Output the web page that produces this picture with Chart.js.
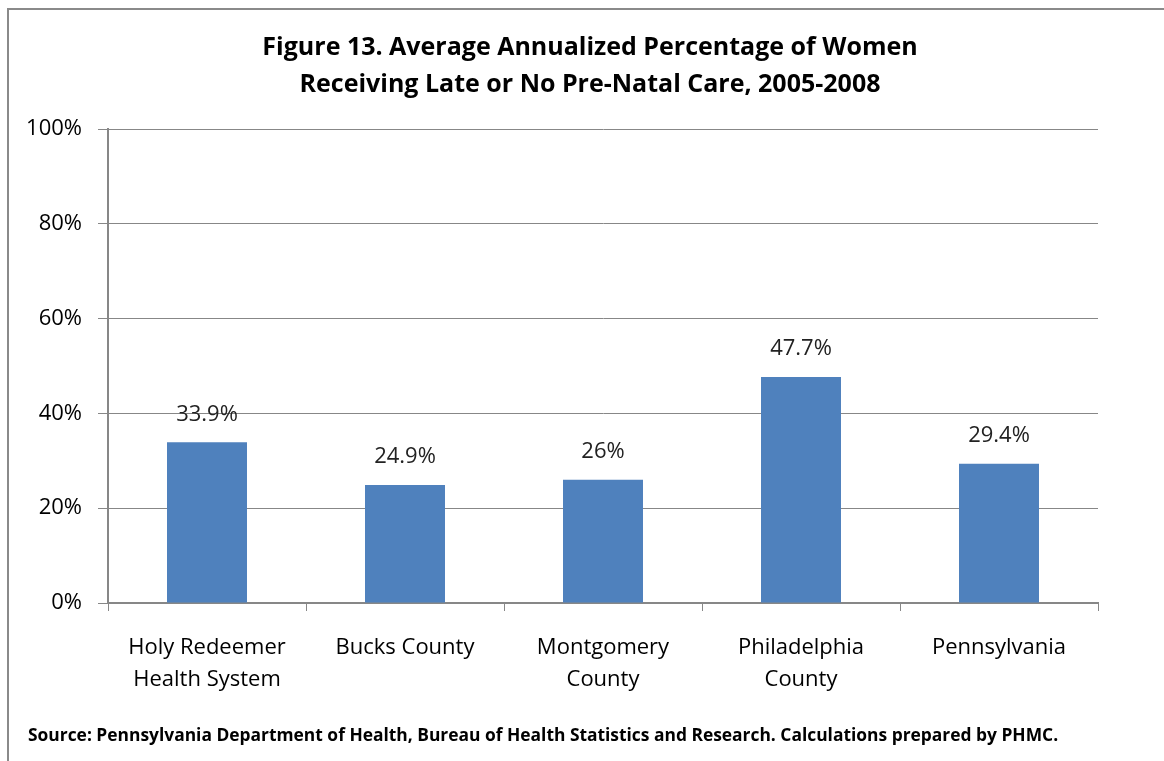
<!DOCTYPE html>
<html>
<head>
<meta charset="utf-8">
<script src="https://cdn.jsdelivr.net/npm/chart.js@4/dist/chart.umd.min.js"></script>
<style>
  html, body { margin: 0; padding: 0; background: #fff; }
  #wrap { position: relative; width: 1164px; height: 761px; overflow: hidden; }
  #frame { position: absolute; left: 7px; top: 8px; width: 1200px; height: 800px;
           border-left: 2px solid #8a8a8a; border-top: 2px solid #8a8a8a; }
  canvas { position: absolute; left: 0; top: 0; }
</style>
</head>
<body>
<div id="wrap">
  <div id="frame"></div>
  <canvas id="chart" width="1164" height="761"></canvas>
</div>
<script>
// Chart data
const categories = [
  ["Holy Redeemer", "Health System"],
  ["Bucks County"],
  ["Montgomery", "County"],
  ["Philadelphia", "County"],
  ["Pennsylvania"],
];
const values = [33.9, 24.9, 26, 47.7, 29.4];
const valueLabels = ["33.9%", "24.9%", "26%", "47.7%", "29.4%"];
const yTicks = [0, 20, 40, 60, 80, 100];

const titleLines = [
  "Figure 13. Average Annualized Percentage of Women",
  "Receiving Late or No Pre-Natal Care, 2005-2008",
];
const sourceText =
  "Source: Pennsylvania Department of Health, Bureau of Health Statistics and Research. Calculations prepared by PHMC.";

const FONT = "'Open Sans', Lato, sans-serif";

// Title, source note and bar value labels
const textPlugin = {
  id: "textPlugin",
  afterDraw(chart) {
    const ctx = chart.ctx;
    ctx.save();
    ctx.fillStyle = "#000";
    ctx.textBaseline = "middle";

    ctx.textAlign = "center";
    ctx.font = "bold 25px " + FONT;
    ctx.fillText(titleLines[0], 590, 48);
    ctx.fillText(titleLines[1], 590, 85);

    ctx.textAlign = "left";
    ctx.font = "bold 17.4px " + FONT;
    ctx.fillText(sourceText, 28, 736);

    ctx.textAlign = "center";
    ctx.font = "22px " + FONT;
    ctx.fillStyle = "#222";
    const meta = chart.getDatasetMeta(0);
    meta.data.forEach((bar, i) => {
      ctx.fillText(valueLabels[i], bar.x, bar.y - 28);
    });
    ctx.restore();
  },
};

new Chart(document.getElementById("chart").getContext("2d"), {
  type: "bar",
  data: {
    labels: categories,
    datasets: [
      {
        data: values,
        backgroundColor: "#4f81bd",
        borderWidth: 0,
        categoryPercentage: 1,
        barPercentage: 0.404,
      },
    ],
  },
  options: {
    responsive: false,
    animation: false,
    layout: { padding: { left: 0, top: 129, right: 66, bottom: 0 } },
    plugins: {
      legend: { display: false },
      title: { display: false },
      tooltip: { enabled: false },
    },
    scales: {
      x: {
        afterFit(scale) { scale.height = 158; },
        grid: {
          offset: true,
          drawOnChartArea: false,
          drawTicks: true,
          tickLength: 8,
          color: "#878787",
        },
        border: { color: "#878787", width: 2 },
        ticks: {
          color: "#000",
          font: { family: FONT, size: 22, lineHeight: 1.45 },
          padding: 21,
          maxRotation: 0,
          autoSkip: false,
        },
      },
      y: {
        min: 0,
        max: 100,
        afterFit(scale) { scale.width = 108; },
        afterBuildTicks(scale) { scale.ticks = yTicks.map((v) => ({ value: v })); },
        grid: { color: "#878787", tickLength: 10 },
        border: { color: "#878787", width: 2 },
        ticks: {
          color: "#000",
          font: { family: FONT, size: 22 },
          padding: 16,
          callback: (v) => v + "%",
        },
      },
    },
  },
  plugins: [textPlugin],
});
</script>
</body>
</html>
